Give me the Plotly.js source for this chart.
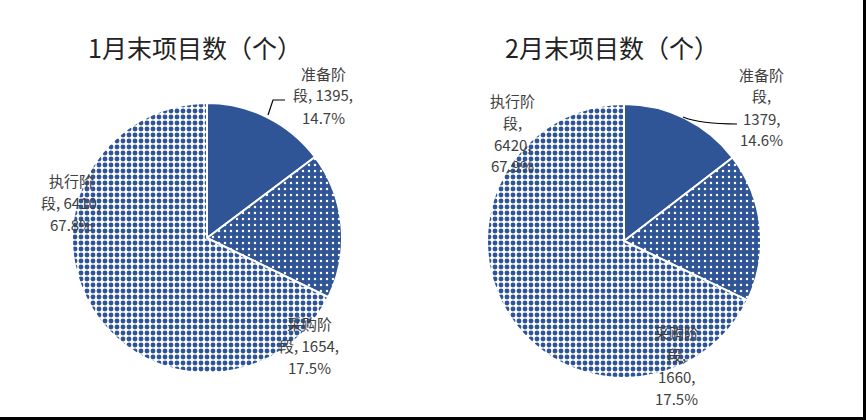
<!DOCTYPE html>
<html>
<head>
<meta charset="utf-8">
<script src="https://cdn.plot.ly/plotly-3.0.1.min.js"></script>
<style>
  html, body { margin: 0; padding: 0; background: #fff; }
  #chart { width: 866px; height: 420px; }
</style>
</head>
<body>
<div id="chart"></div>
<script>
// Data
const stages = ['准备阶段', '采购阶段', '执行阶段'];
const janValues = [1395, 1654, 6410];
const febValues = [1379, 1660, 6420];
const titles = ['1月末项目数（个）', '2月末项目数（个）'];

const W = 866, H = 420;
const px = x => x / W;
const py = y => 1 - y / H;

const blue = '#2F5597';
const labelFont = { family: 'Noto Sans CJK SC, sans-serif', size: 15, color: '#404040' };
const titleFont = { family: 'Noto Sans CJK SC, sans-serif', size: 25, color: '#222' };

function pct(values, i) {
    const total = values.reduce((a, b) => a + b, 0);
    return (values[i] / total * 100).toFixed(1) + '%';
}

// solid / dotted / checkered fills
const pattern = {
    shape: ['', '.', '.'],
    fillmode: 'replace',
    bgcolor: [blue, blue, '#ffffff'],
    fgcolor: [blue, '#ffffff', blue],
    size: [6, 6, 6],
    solidity: [0.2, 0.13, 0.52]
};

function pie(values, domain) {
    return {
        type: 'pie',
        labels: stages,
        values: values,
        sort: false,
        direction: 'clockwise',
        rotation: 0,
        textinfo: 'none',
        hoverinfo: 'label+value+percent',
        domain: domain,
        marker: {
            colors: [blue, blue, '#ffffff'],
            line: { color: '#ffffff', width: 2 },
            pattern: pattern
        }
    };
}

const data = [
    pie(janValues, { x: [px(72), px(342)], y: [py(373), py(103)] }),
    pie(febValues, { x: [px(487), px(761)], y: [py(378), py(104)] })
];

const head = s => s.slice(0, 3);
const tail = s => s.slice(3);

// each label is a stack of lines centred on x, first line at y, 22px apart
function label(x, y, lines) {
    return lines.map((t, k) => ({ x: x, y: y + k * 22, text: t }));
}

const labelLines = [].concat(
    label(323, 73, [head(stages[0]), tail(stages[0]) + ', ' + janValues[0] + ',', pct(janValues, 0)]),
    label(309, 323, [head(stages[1]), tail(stages[1]) + ', ' + janValues[1] + ',', pct(janValues, 1)]),
    label(71, 180, [head(stages[2]), tail(stages[2]) + ', ' + janValues[2] + ',', pct(janValues, 2)]),
    label(761, 74, [head(stages[0]), tail(stages[0]) + ',', febValues[0] + ',', pct(febValues, 0)]),
    label(676, 332, [head(stages[1]), tail(stages[1]) + ',', febValues[1] + ',', pct(febValues, 1)]),
    label(512, 100, [head(stages[2]), tail(stages[2]) + ',', febValues[2] + ',', pct(febValues, 2)])
);

const annotations = [
    { x: 195, y: 47, text: titles[0], font: titleFont },
    { x: 612, y: 47, text: titles[1], font: titleFont }
].concat(labelLines).map(a => ({
    xref: 'paper', yref: 'paper',
    x: px(a.x), y: py(a.y),
    xanchor: 'center', yanchor: 'middle',
    align: 'center',
    showarrow: false,
    text: a.text,
    font: a.font || labelFont
}));

const P = (x, y) => px(x) + ',' + py(y);

const shapes = [
    // leader lines
    { type: 'path', xref: 'paper', yref: 'paper',
      path: 'M' + P(268, 115) + ' L' + P(273, 100) + ' L' + P(285, 100),
      line: { color: '#000', width: 1.2 } },
    { type: 'path', xref: 'paper', yref: 'paper',
      path: 'M' + P(683, 117) + ' Q' + P(700, 124) + ' ' + P(737, 124),
      line: { color: '#000', width: 1.2 } },
    // frame on right and bottom
    { type: 'line', xref: 'paper', yref: 'paper', x0: px(864.5), x1: px(864.5), y0: 0, y1: 1,
      line: { color: '#000', width: 3 } },
    { type: 'line', xref: 'paper', yref: 'paper', x0: 0, x1: 1, y0: py(418.5), y1: py(418.5),
      line: { color: '#000', width: 3 } }
];

const layout = {
    width: W,
    height: H,
    margin: { l: 0, r: 0, t: 0, b: 0 },
    showlegend: false,
    paper_bgcolor: '#ffffff',
    annotations: annotations,
    shapes: shapes
};

Plotly.newPlot('chart', data, layout, { displayModeBar: false, staticPlot: true });
</script>
</body>
</html>
